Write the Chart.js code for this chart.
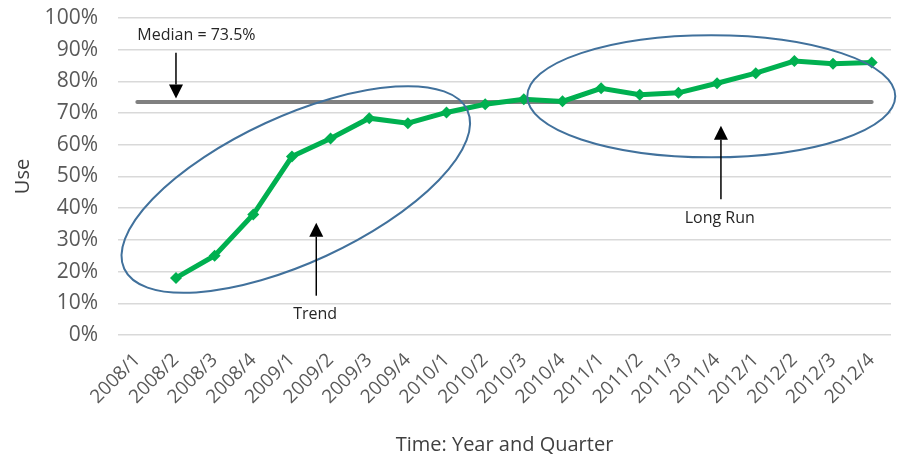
<!DOCTYPE html>
<html>
<head>
<meta charset="utf-8">
<script src="https://cdn.jsdelivr.net/npm/chart.js@4/dist/chart.umd.min.js"></script>
<style>
  html, body { margin: 0; padding: 0; background: #fff; }
  #wrap { width: 897px; height: 461px; }
</style>
</head>
<body>
<div id="wrap"><canvas id="useChart" width="897" height="461"></canvas></div>
<script>
// Quarterly use, 2008/1 - 2012/4 (no reading for the first quarter)
const quarters = [
    '2008/1', '2008/2', '2008/3', '2008/4',
    '2009/1', '2009/2', '2009/3', '2009/4',
    '2010/1', '2010/2', '2010/3', '2010/4',
    '2011/1', '2011/2', '2011/3', '2011/4',
    '2012/1', '2012/2', '2012/3', '2012/4'
];
const useValues = [
    null, 18.0, 25.0, 38.0,
    56.3, 62.0, 68.4, 66.8,
    70.2, 72.8, 74.4, 73.7,
    77.8, 75.8, 76.4, 79.4,
    82.6, 86.4, 85.6, 86.0
];
const medianValue = 73.5;
const yTicks = [0, 10, 20, 30, 40, 50, 60, 70, 80, 90, 100];

// Callouts: ellipses and arrows placed in category / value units
const ellipses = [
    { x: 4.1, y: 45.9, rx: 189, ry: 73, angle: -24.8 },
    { x: 14.85, y: 75.3, rx: 184, ry: 61, angle: 0 }
];
const arrows = [
    { x: 1.0, from: 89.0, to: 74.6, label: 'Median = 73.5%', labelY: 94.6, labelX: 1.53 },
    { x: 4.63, from: 12.4, to: 35.4, label: 'Trend', labelY: 6.6, labelX: 4.6 },
    { x: 15.1, from: 42.8, to: 66.0, label: 'Long Run', labelY: 36.7, labelX: 15.07 }
];

Chart.defaults.font.family = "'Open Sans', 'Noto Sans', sans-serif";

const noPadding = () => ({ left: 0, top: 0, right: 0, bottom: 0 });

const calloutPlugin = {
    id: 'callouts',
    afterDatasetsDraw(chart) {
        const ctx = chart.ctx;
        const xs = chart.scales.x;
        const ys = chart.scales.y;

        ctx.save();
        ctx.strokeStyle = '#41719c';
        ctx.lineWidth = 2;
        ellipses.forEach(e => {
            ctx.beginPath();
            ctx.ellipse(xs.getPixelForValue(e.x), ys.getPixelForValue(e.y),
                e.rx, e.ry, e.angle * Math.PI / 180, 0, Math.PI * 2);
            ctx.stroke();
        });

        arrows.forEach(a => {
            const x = xs.getPixelForValue(a.x);
            const y0 = ys.getPixelForValue(a.from);
            const y1 = ys.getPixelForValue(a.to);
            const dir = y1 > y0 ? 1 : -1;
            const head = 14;
            ctx.strokeStyle = '#000';
            ctx.lineWidth = 1.5;
            ctx.beginPath();
            ctx.moveTo(x, y0);
            ctx.lineTo(x, y1 - dir * head);
            ctx.stroke();
            ctx.fillStyle = '#000';
            ctx.beginPath();
            ctx.moveTo(x, y1);
            ctx.lineTo(x - 7, y1 - dir * head);
            ctx.lineTo(x + 7, y1 - dir * head);
            ctx.closePath();
            ctx.fill();

            ctx.fillStyle = '#262626';
            ctx.font = "16px 'Open Sans', sans-serif";
            ctx.textAlign = 'center';
            ctx.textBaseline = 'middle';
            ctx.fillText(a.label, xs.getPixelForValue(a.labelX), ys.getPixelForValue(a.labelY));
        });
        ctx.restore();
    }
};

const ctx = document.getElementById('useChart').getContext('2d');
new Chart(ctx, {
    type: 'line',
    data: {
        labels: quarters,
        datasets: [{
            label: 'Use',
            data: useValues,
            borderColor: '#00b050',
            backgroundColor: '#00b050',
            borderWidth: 5,
            pointStyle: 'rectRot',
            pointRadius: 6,
            pointBorderWidth: 0,
            tension: 0,
            order: 1
        }, {
            label: 'Median',
            data: quarters.map(() => medianValue),
            borderColor: '#808080',
            borderWidth: 4,
            pointRadius: 0,
            borderCapStyle: 'round',
            order: 2
        }]
    },
    options: {
        responsive: false,
        animation: false,
        layout: { padding: { top: 18, left: 0, right: 0, bottom: 0 } },
        plugins: {
            legend: { display: false },
            tooltip: { enabled: false }
        },
        scales: {
            x: {
                offset: true,
                grid: { display: false },
                border: { display: false },
                ticks: {
                    autoSkip: false,
                    minRotation: 45,
                    maxRotation: 45,
                    padding: 6,
                    color: '#595959',
                    font: { size: 19 }
                },
                title: {
                    display: true,
                    text: 'Time: Year and Quarter',
                    color: '#404040',
                    font: { size: 20 },
                    padding: { top: 0, bottom: 4 }
                },
                afterFit(scale) {
                    scale.height = 126;
                    scale.paddingLeft = 0;
                    scale.paddingRight = 0;
                    scale.getPadding = noPadding;
                }
            },
            y: {
                min: 0,
                max: 100,
                afterBuildTicks(scale) {
                    scale.ticks = yTicks.map(v => ({ value: v }));
                },
                grid: { color: '#d9d9d9', lineWidth: 1.5, drawTicks: false },
                border: { display: false },
                ticks: {
                    padding: 20,
                    color: '#595959',
                    font: { size: 21 },
                    callback: v => v + '%'
                },
                title: {
                    display: true,
                    text: 'Use',
                    color: '#404040',
                    font: { size: 20 },
                    padding: { top: 11, bottom: 0 }
                },
                afterFit(scale) {
                    scale.width = 118;
                    scale.paddingTop = 0;
                    scale.paddingBottom = 0;
                    scale.getPadding = noPadding;
                }
            }
        }
    },
    plugins: [calloutPlugin]
});
</script>
</body>
</html>
